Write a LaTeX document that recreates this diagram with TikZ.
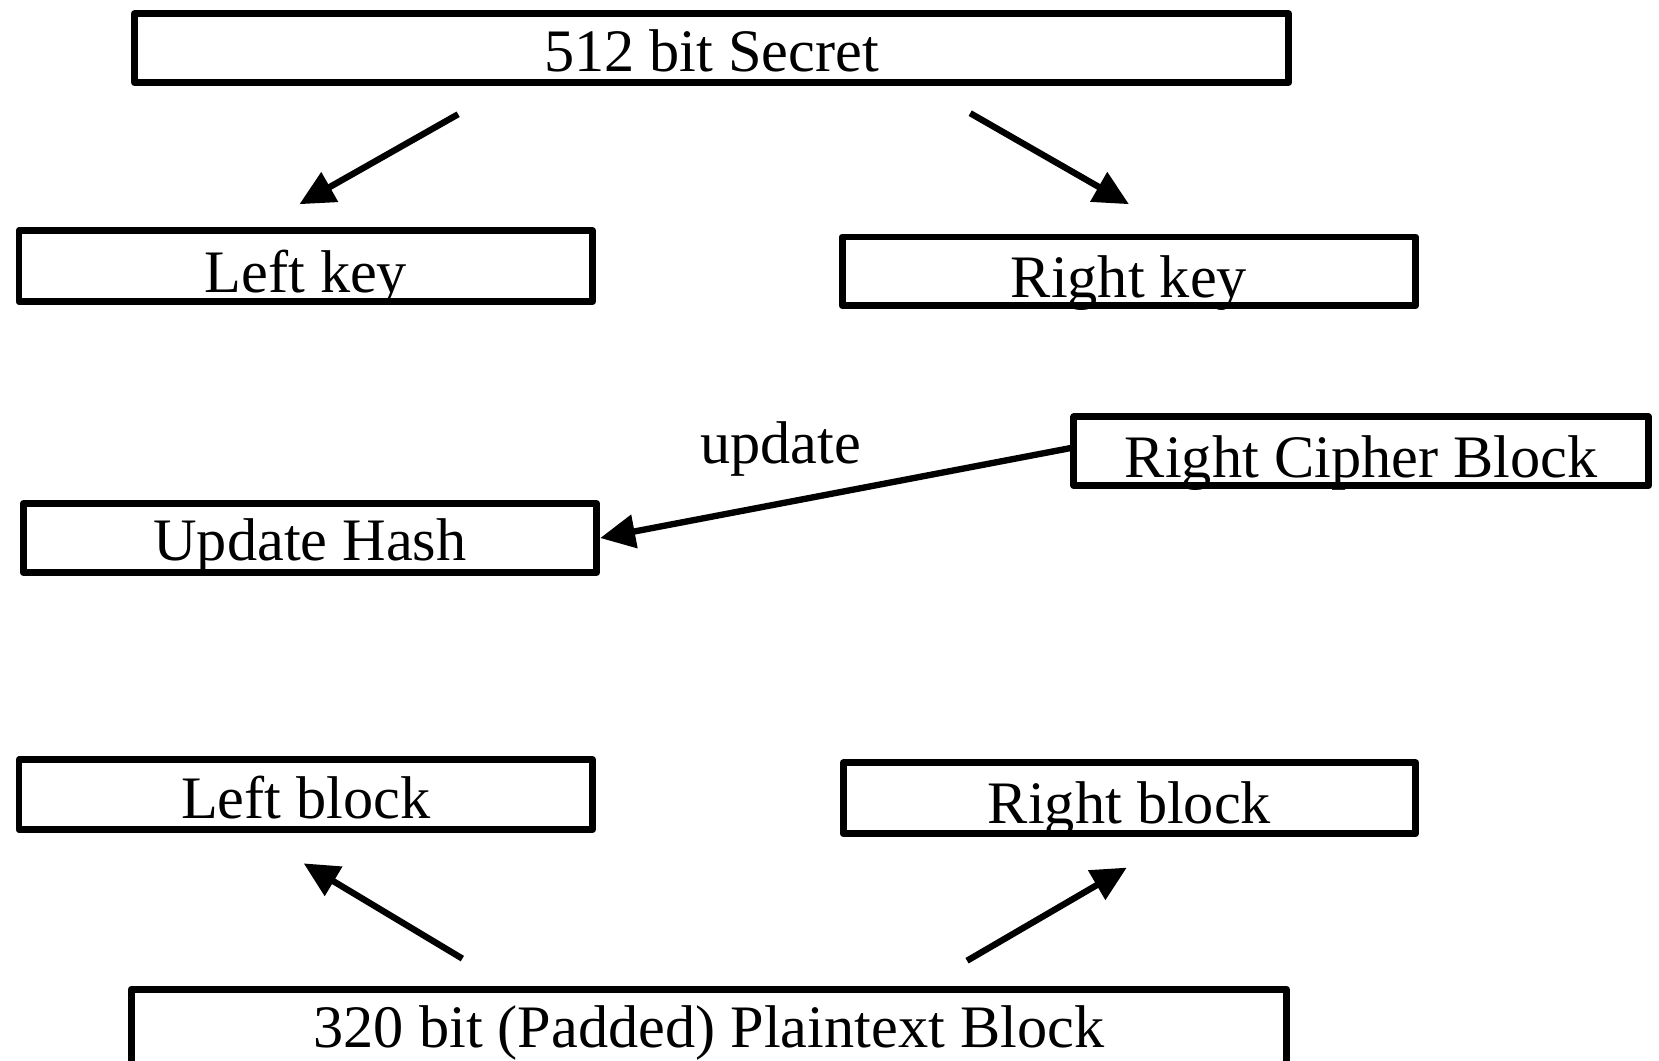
\documentclass[tikz,border=0pt]{standalone}
\usepackage{fontspec}
\setmainfont{Liberation Serif}
\usetikzlibrary{arrows.meta}
\begin{document}
\begin{tikzpicture}[x=1pt,y=-1pt,
  box/.style={draw, rectangle, line width=6.5pt, line join=round, inner sep=0pt, minimum height=0pt,
    font=\fontsize{57}{60}\selectfont},
  lbl/.style={inner sep=0pt, font=\fontsize{57}{60}\selectfont},
  arr/.style={line width=6pt, -{Triangle[length=33pt,width=31pt]}}]
\fill[white] (0,0) rectangle (1568,1002);
\useasboundingbox (0,0) rectangle (1568,1002);
% boxes
\node[box, minimum width=1091pt, text height=55pt, text depth=10pt] (secret) at (672.5,45.5) {512 bit Secret};
\node[box, minimum width=542pt, text height=58pt, text depth=9pt] (lkey) at (289,251.5) {Left key};
\node[box, minimum width=542pt, text height=57pt, text depth=8pt] (rkey) at (1067,256.5) {Right key};
\node[box, minimum width=543pt, text height=57pt, text depth=8pt] (rcb) at (1286.5,426.5) {Right Cipher Block};
\node[box, minimum width=542pt, text height=54pt, text depth=11pt] (uh) at (293,508.5) {Update Hash};
\node[box, minimum width=542pt, text height=56pt, text depth=10pt] (lblock) at (289,751) {Left block};
\node[box, minimum width=541pt, text height=57pt, text depth=10pt] (rblock) at (1067.5,754.5) {Right block};
\node[box, minimum width=1092pt, text height=55pt, text depth=20pt] (plain) at (670,972.5) {320 bit (Padded) Plaintext Block};
% label
\node[lbl, anchor=base] (updlbl) at (738,438) {update};
% arrow end points
\coordinate (a1s) at (433,108);
\coordinate (a1e) at (283,193);
\coordinate (a2s) at (917,107);
\coordinate (a2e) at (1067,193);
\coordinate (a4s) at (437,906);
\coordinate (a4e) at (287,816);
\coordinate (a5s) at (914,908);
\coordinate (a5e) at (1065,820);
% connectors
\draw[arr] (a1s) -- (a1e);
\draw[arr] (a2s) -- (a2e);
\draw[arr] ([yshift=3pt]rcb.west) -- (uh.east);
\draw[arr] (a4s) -- (a4e);
\draw[arr] (a5s) -- (a5e);
\end{tikzpicture}
\end{document}
